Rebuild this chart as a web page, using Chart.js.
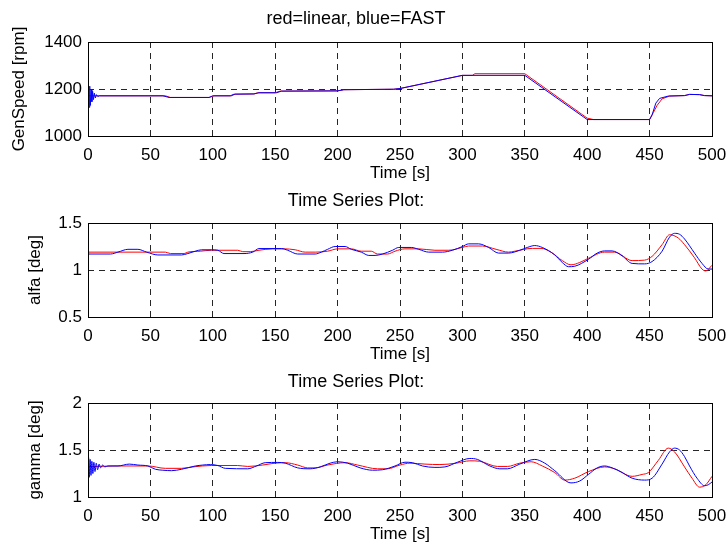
<!DOCTYPE html>
<html>
<head>
<meta charset="utf-8">
<script src="https://cdn.jsdelivr.net/npm/chart.js@4.4.0/dist/chart.umd.min.js"></script>
<style>
  body { margin: 0; background: #fff; }
  #wrap { position: relative; width: 728px; height: 547px; background: #fff; }
  #wrap canvas { position: absolute; left: 0; }
</style>
</head>
<body>
<div id="wrap">
  <canvas id="genSpeed" width="728" height="184" style="top:0px"></canvas>
  <canvas id="alfa" width="728" height="184" style="top:181px"></canvas>
  <canvas id="gamma" width="728" height="184" style="top:361px"></canvas>
</div>
<script>
// Axis ticks
const timeTicks = [0, 50, 100, 150, 200, 250, 300, 350, 400, 450, 500];
const genSpeedTicks = [1000, 1200, 1400];
const alfaTicks = [0.5, 1, 1.5];
const gammaTicks = [1, 1.5, 2];

// GenSpeed [rpm]
const genTimeLinear = [0, 62, 66, 97, 101, 115, 118, 133, 136, 150, 154, 200, 205, 245, 250, 300, 308, 310, 350, 400, 405, 450, 453, 456, 460, 466, 478, 482, 490, 494, 500];
const genSpeedLinear = [1171, 1171, 1164, 1164, 1171, 1171, 1178, 1179, 1184, 1184, 1191, 1192, 1197, 1199, 1202, 1258, 1258, 1265, 1265, 1076, 1070, 1070, 1100, 1130, 1158, 1170, 1172, 1177, 1176, 1172, 1171];
const genTimeFast = [0, 0.4, 0.9, 1.4, 1.9, 2.5, 3.1, 3.7, 4.4, 5.1, 5.9, 6.8, 7.8, 9, 60, 65, 97, 100, 114, 117, 133, 137, 151, 155, 200, 205, 245, 250, 300, 350, 400, 450, 452, 455, 458, 465, 478, 482, 490, 494, 500];
const genSpeedFast = [1170, 1217, 1122, 1212, 1130, 1198, 1146, 1190, 1155, 1182, 1162, 1176, 1168, 1171, 1171, 1164, 1164, 1171, 1171, 1178, 1179, 1184, 1184, 1191, 1192, 1197, 1199, 1202, 1258, 1258, 1070, 1070, 1090, 1140, 1160, 1170, 1172, 1177, 1176, 1172, 1171];

// alfa [deg]
const alfaTimeLinear = [0, 62, 66, 77, 80, 90, 99, 120, 124, 130, 137, 148, 157, 166, 174, 182, 192, 200, 211, 219, 227, 232, 240, 246, 254, 265, 278, 289, 300, 305, 316, 327, 337, 342, 356, 363, 371, 380, 387, 394, 401, 414, 422, 436, 446, 452, 460, 466, 473, 478, 486, 492, 495, 500];
const alfaLinear = [1.19, 1.19, 1.175, 1.175, 1.19, 1.2, 1.21, 1.21, 1.195, 1.195, 1.21, 1.225, 1.225, 1.215, 1.19, 1.19, 1.2, 1.225, 1.225, 1.2, 1.2, 1.17, 1.17, 1.2, 1.225, 1.225, 1.21, 1.21, 1.24, 1.255, 1.255, 1.22, 1.19, 1.2, 1.23, 1.23, 1.19, 1.1, 1.055, 1.08, 1.125, 1.19, 1.19, 1.1, 1.105, 1.145, 1.27, 1.375, 1.34, 1.27, 1.13, 1.01, 0.99, 1.05];
const alfaTimeFast = [0, 18, 24, 32, 40, 47, 56, 75, 80, 86, 91, 99, 104, 109, 125, 132, 137, 155, 160, 168, 182, 187, 192, 198, 206, 211, 219, 225, 230, 236, 244, 249, 259, 265, 273, 284, 292, 300, 305, 313, 321, 329, 337, 346, 352, 358, 364, 374, 380, 385, 390, 401, 408, 414, 420, 428, 436, 446, 452, 460, 466, 470, 474, 478, 486, 492, 497, 500];
const alfaFast = [1.17, 1.17, 1.19, 1.22, 1.22, 1.19, 1.16, 1.16, 1.175, 1.2, 1.215, 1.215, 1.21, 1.175, 1.175, 1.19, 1.228, 1.228, 1.21, 1.17, 1.17, 1.19, 1.22, 1.25, 1.25, 1.22, 1.19, 1.155, 1.155, 1.17, 1.21, 1.24, 1.24, 1.22, 1.19, 1.19, 1.21, 1.25, 1.278, 1.278, 1.24, 1.18, 1.18, 1.21, 1.24, 1.26, 1.24, 1.16, 1.08, 1.035, 1.04, 1.114, 1.18, 1.203, 1.203, 1.15, 1.07, 1.065, 1.09, 1.2, 1.35, 1.39, 1.38, 1.33, 1.18, 1.07, 1.01, 1.01];

// gamma [deg]
const gammaTimeLinear = [0, 20, 48, 62, 75, 84, 99, 120, 128, 140, 150, 158, 168, 176, 182, 192, 206, 216, 232, 240, 250, 258, 270, 282, 295, 306, 314, 328, 336, 346, 355, 364, 374, 382, 390, 401, 414, 422, 436, 444, 449, 457, 465, 470, 478, 484, 490, 495, 500];
const gammaLinear = [1.32, 1.33, 1.33, 1.305, 1.305, 1.32, 1.335, 1.335, 1.325, 1.34, 1.36, 1.365, 1.34, 1.31, 1.31, 1.34, 1.365, 1.34, 1.3, 1.3, 1.34, 1.36, 1.35, 1.345, 1.36, 1.385, 1.38, 1.325, 1.325, 1.36, 1.375, 1.33, 1.26, 1.18, 1.2, 1.27, 1.32, 1.3, 1.22, 1.24, 1.26, 1.39, 1.52, 1.48, 1.32, 1.2, 1.105, 1.13, 1.22];
const gammaTimeFast = [0, 0.5, 1.1, 1.7, 2.4, 3.1, 3.9, 4.7, 5.6, 6.6, 7.7, 8.9, 10.2, 11.7, 13.5, 16, 24, 33, 40, 48, 54, 60, 67, 75, 86, 92, 98, 104, 110, 128, 135, 142, 152, 158, 168, 178, 186, 194, 200, 208, 218, 228, 236, 246, 254, 260, 268, 278, 286, 296, 306, 312, 322, 330, 336, 346, 358, 366, 374, 387, 394, 401, 408, 414, 420, 428, 436, 446, 452, 460, 466, 470, 474, 478, 482, 488, 494, 497, 500];
const gammaFast = [1.3, 1.42, 1.21, 1.4, 1.23, 1.38, 1.25, 1.37, 1.27, 1.36, 1.29, 1.35, 1.31, 1.34, 1.32, 1.33, 1.33, 1.35, 1.34, 1.33, 1.295, 1.285, 1.28, 1.295, 1.33, 1.34, 1.345, 1.335, 1.305, 1.3, 1.33, 1.365, 1.368, 1.36, 1.31, 1.3, 1.32, 1.36, 1.375, 1.36, 1.31, 1.285, 1.29, 1.33, 1.37, 1.365, 1.33, 1.315, 1.32, 1.37, 1.41, 1.4, 1.33, 1.3, 1.3, 1.35, 1.4, 1.36, 1.28, 1.15, 1.17, 1.24, 1.31, 1.33, 1.31, 1.26, 1.2, 1.18, 1.2, 1.35, 1.48, 1.52, 1.5, 1.43, 1.33, 1.2, 1.12, 1.13, 1.16];

Chart.defaults.font.family = "'Liberation Sans', Arial, Helvetica, sans-serif";
Chart.defaults.font.size = 17;
Chart.defaults.color = '#000';

function pts(times, values) {
    return times.map(function(t, i) { return { x: t, y: values[i] }; });
}

// plain numbers on the ticks: 1000, 1.5, 1
function plainTick(v) {
    return String(Math.round(v * 1000) / 1000);
}

// solid black box round the plot area, on the same pixels as the edge grid lines
const frame = {
    id: 'frame',
    afterDraw: function(chart) {
        const a = chart.chartArea;
        const ctx = chart.ctx;
        const l = Math.round(a.left) + 0.5, t = Math.round(a.top) + 0.5;
        const r = Math.round(a.right) + 0.5, b = Math.round(a.bottom) + 0.5;
        ctx.save();
        ctx.strokeStyle = '#000';
        ctx.lineWidth = 1;
        ctx.setLineDash([]);
        ctx.strokeRect(l, t, r - l, b - t);
        ctx.restore();
    }
};

const dashedGrid = {
    grid: { color: 'rgba(0,0,0,0.85)', lineWidth: 1, drawTicks: false },
    border: { display: false, dash: [6, 5] }
};

function subplot(id, cfg) {
    return new Chart(document.getElementById(id), {
        type: 'line',
        plugins: [frame],
        data: {
            datasets: [{
                // FAST drawn on top
                data: pts(cfg.timeFast, cfg.fast),
                borderColor: '#0000ff',
                borderWidth: 1,
                pointRadius: 0,
                tension: cfg.tension,
                cubicInterpolationMode: cfg.tension ? 'monotone' : 'default'
            }, {
                data: pts(cfg.timeLinear, cfg.linear),
                borderColor: '#ff0000',
                borderWidth: 1,
                pointRadius: 0,
                tension: cfg.tension,
                cubicInterpolationMode: cfg.tension ? 'monotone' : 'default'
            }]
        },
        options: {
            responsive: false,
            animation: false,
            devicePixelRatio: 1,
            layout: { autoPadding: false, padding: { left: 0, right: 16, top: 0, bottom: 0 } },
            plugins: {
                legend: { display: false },
                tooltip: { enabled: false },
                title: {
                    display: true,
                    text: cfg.title,
                    font: { size: 18, weight: 'normal' },
                    padding: { top: cfg.titleTop, bottom: 20.4 - cfg.titleTop }
                }
            },
            scales: {
                x: Object.assign({
                    type: 'linear',
                    min: timeTicks[0],
                    max: timeTicks[timeTicks.length - 1],
                    ticks: { stepSize: timeTicks[1] - timeTicks[0], padding: 9, maxRotation: 0, autoSkip: false, callback: plainTick },
                    title: { display: true, text: 'Time [s]', padding: 0 },
                    afterFit: function(s) {
                        // fixed height, and no extra room for the end labels
                        s.height = 48;
                        s.paddingLeft = 0;
                        s.paddingRight = 0;
                    }
                }, dashedGrid),
                y: Object.assign({
                    min: cfg.ticks[0],
                    max: cfg.ticks[cfg.ticks.length - 1],
                    ticks: { stepSize: cfg.ticks[1] - cfg.ticks[0], padding: 6, callback: plainTick },
                    title: { display: true, text: cfg.yLabel, padding: { top: cfg.yTitlePad, bottom: 0 } },
                    afterFit: function(s) {
                        s.width = 88;
                        s.paddingTop = 0;
                        s.paddingBottom = 0;
                    }
                }, dashedGrid)
            }
        }
    });
}

subplot('genSpeed', {
    title: 'red=linear, blue=FAST', titleTop: 8.7,
    yLabel: 'GenSpeed [rpm]', yTitlePad: 9.3, ticks: genSpeedTicks, tension: 0,
    timeLinear: genTimeLinear, linear: genSpeedLinear,
    timeFast: genTimeFast, fast: genSpeedFast
});

subplot('alfa', {
    title: 'Time Series Plot:', titleTop: 9.7,
    yLabel: 'alfa [deg]', yTitlePad: 24.8, ticks: alfaTicks, tension: 0.4,
    timeLinear: alfaTimeLinear, linear: alfaLinear,
    timeFast: alfaTimeFast, fast: alfaFast
});

subplot('gamma', {
    title: 'Time Series Plot:', titleTop: 10.2,
    yLabel: 'gamma [deg]', yTitlePad: 24.8, ticks: gammaTicks, tension: 0.4,
    timeLinear: gammaTimeLinear, linear: gammaLinear,
    timeFast: gammaTimeFast, fast: gammaFast
});
</script>
</body>
</html>
